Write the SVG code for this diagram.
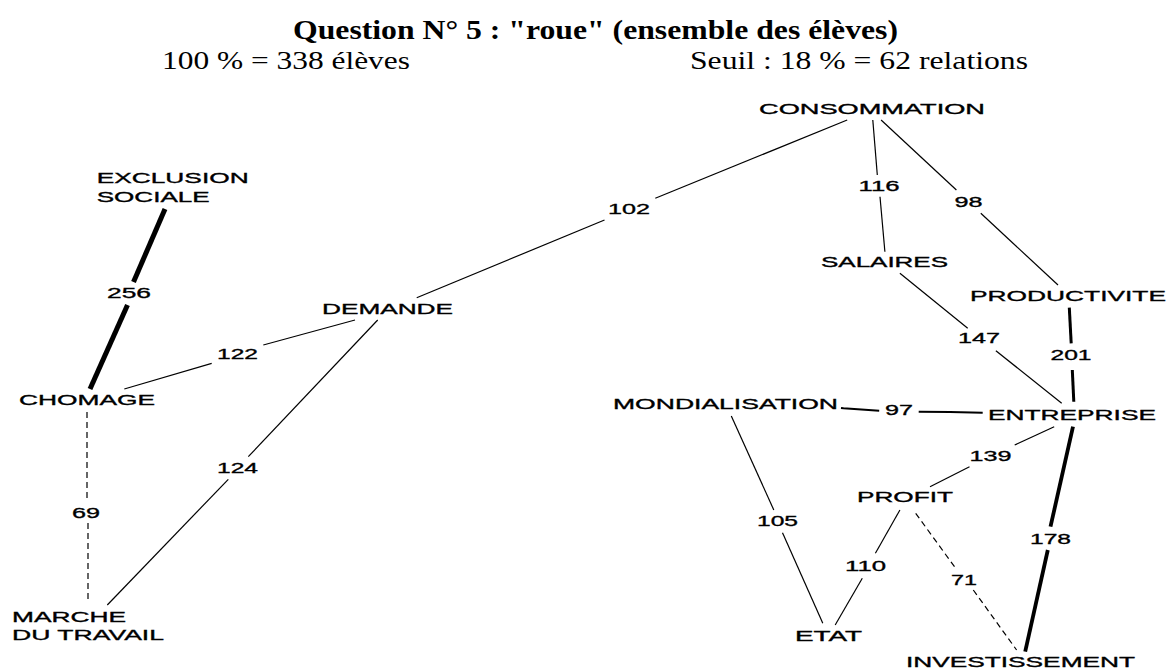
<svg xmlns="http://www.w3.org/2000/svg" width="1170" height="668" viewBox="0 0 1170 668">
<style>
.bg{fill:#fff}
.hd{font-family:"Liberation Serif","Times New Roman",serif;font-size:26px;fill:#000}
.hb{font-weight:bold;font-size:27px}
.n{font-family:"Liberation Sans",Arial,sans-serif;font-size:15.5px;fill:#000;stroke:#000;stroke-width:0.35}
.e{stroke:#000;stroke-width:1.2;fill:none;stroke-linecap:butt}
.d{stroke-dasharray:6,4}
.w2{stroke-width:2}
.w3{stroke-width:3}
.w4{stroke-width:3.8}
.w5{stroke-width:5}
</style>
<rect class="bg" x="0" y="0" width="1170" height="668"/>
<g id="header">
<text class="hd hb" x="293" y="39" textLength="605" lengthAdjust="spacingAndGlyphs">Question N° 5 : "roue" (ensemble des élèves)</text>
<text class="hd" x="162" y="69" textLength="248" lengthAdjust="spacingAndGlyphs">100 % = 338 élèves</text>
<text class="hd" x="690" y="69" textLength="338" lengthAdjust="spacingAndGlyphs">Seuil : 18 % = 62 relations</text>
</g>
<g id="connectors">
<g id="e-exclusion-chomage"><line class="e w5" x1="165" y1="209" x2="133.5" y2="282"/><line class="e w5" x1="127.5" y1="305" x2="90" y2="389"/><text class="n" x="107" y="298" textLength="44" lengthAdjust="spacingAndGlyphs">256</text></g>
<g id="e-chomage-demande"><line class="e" x1="124.3" y1="389" x2="211.7" y2="363.3"/><line class="e" x1="263.3" y1="345" x2="355" y2="320"/><text class="n" x="217" y="359" textLength="41" lengthAdjust="spacingAndGlyphs">122</text></g>
<g id="e-demande-marche"><line class="e" x1="377.7" y1="320" x2="248.3" y2="456.7"/><line class="e" x1="228.3" y1="479.3" x2="107.3" y2="605"/><text class="n" x="217" y="473" textLength="41" lengthAdjust="spacingAndGlyphs">124</text></g>
<g id="e-chomage-marche"><line class="e d" x1="87" y1="412" x2="87" y2="500"/><line class="e d" x1="88" y1="523" x2="88" y2="600"/><text class="n" x="72" y="518" textLength="28" lengthAdjust="spacingAndGlyphs">69</text></g>
<g id="e-demande-consommation"><line class="e" x1="416.7" y1="297.7" x2="604.5" y2="220"/><line class="e" x1="655.3" y1="198.3" x2="847.2" y2="120"/><text class="n" x="608" y="213.5" textLength="42" lengthAdjust="spacingAndGlyphs">102</text></g>
<g id="e-consommation-salaires"><line class="e" x1="872.8" y1="120" x2="877.3" y2="175"/><line class="e" x1="880" y1="196.7" x2="884.9" y2="251.7"/><text class="n" x="858.5" y="191" textLength="41" lengthAdjust="spacingAndGlyphs">116</text></g>
<g id="e-consommation-productivite"><line class="e" x1="881.1" y1="120" x2="956.4" y2="190"/><line class="e" x1="980.8" y1="213.3" x2="1058" y2="285"/><text class="n" x="954.5" y="207" textLength="28" lengthAdjust="spacingAndGlyphs">98</text></g>
<g id="e-salaires-entreprise"><line class="e" x1="899.9" y1="273.3" x2="967.7" y2="328.3"/><line class="e" x1="995.9" y1="350.7" x2="1061.7" y2="403.3"/><text class="n" x="958" y="343" textLength="42" lengthAdjust="spacingAndGlyphs">147</text></g>
<g id="e-productivite-entreprise"><line class="e w3" x1="1069.3" y1="307.7" x2="1071.2" y2="343.3"/><line class="e w3" x1="1072.3" y1="370" x2="1073.8" y2="401.7"/><text class="n" x="1050.5" y="360" textLength="41" lengthAdjust="spacingAndGlyphs">201</text></g>
<g id="e-mondialisation-entreprise"><polyline class="e w2" points="841,408 843.5,408.3 879.2,410.7"/><polyline class="e w2" points="918.7,411.7 950,412 982.7,412.7"/><text class="n" x="885" y="415" textLength="28" lengthAdjust="spacingAndGlyphs">97</text></g>
<g id="e-entreprise-profit"><line class="e" x1="1054.2" y1="426.7" x2="1014.7" y2="445"/><line class="e" x1="969.5" y1="466.7" x2="930" y2="486.7"/><text class="n" x="969.5" y="461" textLength="42" lengthAdjust="spacingAndGlyphs">139</text></g>
<g id="e-profit-etat"><line class="e" x1="899.9" y1="510" x2="875.4" y2="553.3"/><line class="e" x1="862.3" y1="578.3" x2="835.2" y2="625"/><text class="n" x="845" y="571" textLength="41" lengthAdjust="spacingAndGlyphs">110</text></g>
<g id="e-mondialisation-etat"><line class="e" x1="731.3" y1="416" x2="773.8" y2="510"/><line class="e" x1="782.5" y1="532.7" x2="822.8" y2="623.3"/><text class="n" x="757" y="526" textLength="41" lengthAdjust="spacingAndGlyphs">105</text></g>
<g id="e-profit-investissement"><line class="e d" x1="915.7" y1="513.3" x2="954.5" y2="566.7"/><line class="e d" x1="973.3" y1="590" x2="1016.6" y2="650"/><text class="n" x="951" y="585" textLength="26" lengthAdjust="spacingAndGlyphs">71</text></g>
<g id="e-entreprise-investissement"><line class="e w4" x1="1073" y1="426.7" x2="1050.5" y2="526.7"/><line class="e w4" x1="1047.8" y1="550" x2="1025.2" y2="651.7"/><text class="n" x="1030" y="544" textLength="41" lengthAdjust="spacingAndGlyphs">178</text></g>
</g>
<g id="n-exclusion"><text class="n" x="96.7" y="183.3" textLength="152" lengthAdjust="spacingAndGlyphs">EXCLUSION</text><text class="n" x="96.7" y="201.7" textLength="113" lengthAdjust="spacingAndGlyphs">SOCIALE</text></g>
<g id="n-demande"><text class="n" x="322" y="314" textLength="131" lengthAdjust="spacingAndGlyphs">DEMANDE</text></g>
<g id="n-chomage"><text class="n" x="19" y="405" textLength="136" lengthAdjust="spacingAndGlyphs">CHOMAGE</text></g>
<g id="n-marche"><text class="n" x="12" y="622" textLength="114" lengthAdjust="spacingAndGlyphs">MARCHE</text><text class="n" x="12" y="640" textLength="152" lengthAdjust="spacingAndGlyphs">DU TRAVAIL</text></g>
<g id="n-consommation"><text class="n" x="759" y="114" textLength="226" lengthAdjust="spacingAndGlyphs">CONSOMMATION</text></g>
<g id="n-salaires"><text class="n" x="821" y="267" textLength="127" lengthAdjust="spacingAndGlyphs">SALAIRES</text></g>
<g id="n-productivite"><text class="n" x="970" y="301" textLength="196" lengthAdjust="spacingAndGlyphs">PRODUCTIVITE</text></g>
<g id="n-mondialisation"><text class="n" x="613" y="409" textLength="225" lengthAdjust="spacingAndGlyphs">MONDIALISATION</text></g>
<g id="n-entreprise"><text class="n" x="988" y="420" textLength="168" lengthAdjust="spacingAndGlyphs">ENTREPRISE</text></g>
<g id="n-profit"><text class="n" x="857" y="502" textLength="96" lengthAdjust="spacingAndGlyphs">PROFIT</text></g>
<g id="n-etat"><text class="n" x="795" y="641" textLength="67" lengthAdjust="spacingAndGlyphs">ETAT</text></g>
<g id="n-investissement"><text class="n" x="906" y="667" textLength="229" lengthAdjust="spacingAndGlyphs">INVESTISSEMENT</text></g>
</svg>
